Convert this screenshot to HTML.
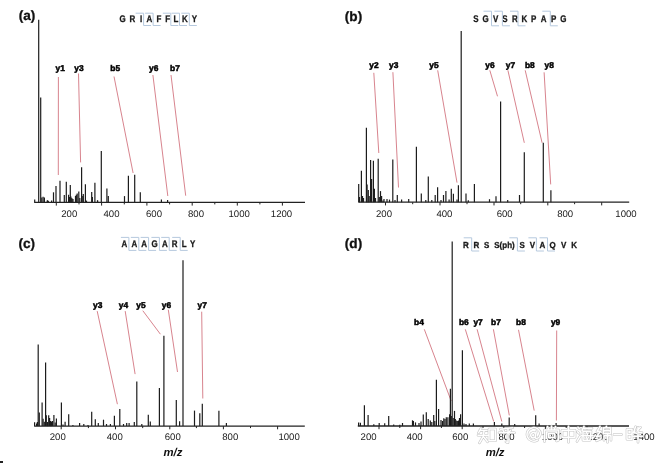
<!DOCTYPE html>
<html><head><meta charset="utf-8"><title>MS/MS spectra</title>
<style>html,body{margin:0;padding:0;background:#fff;}body{width:663px;height:463px;overflow:hidden;}svg{display:block;will-change:transform;}text{text-rendering:geometricPrecision;}</style>
</head><body>
<svg width="663" height="463" viewBox="0 0 663 463">
<rect width="663" height="463" fill="#fff"/>
<g stroke="#d8848e" stroke-width="1.0" fill="none">
<line x1="58.4" y1="77.0" x2="58.3" y2="175.0"/>
<line x1="78.5" y1="73.5" x2="80.6" y2="162.4"/>
<line x1="114.0" y1="76.5" x2="133.1" y2="173.0"/>
<line x1="152.9" y1="75.0" x2="167.8" y2="196.0"/>
<line x1="171.0" y1="75.0" x2="185.7" y2="195.7"/>
<line x1="373.8" y1="72.8" x2="378.8" y2="153.0"/>
<line x1="392.9" y1="72.2" x2="398.5" y2="187.5"/>
<line x1="437.7" y1="70.3" x2="457.0" y2="182.6"/>
<line x1="489.8" y1="70.3" x2="497.5" y2="96.3"/>
<line x1="507.9" y1="70.3" x2="524.3" y2="142.8"/>
<line x1="525.2" y1="70.3" x2="542.1" y2="142.8"/>
<line x1="544.1" y1="72.3" x2="550.7" y2="184.4"/>
<line x1="97.2" y1="311.1" x2="117.4" y2="404.2"/>
<line x1="125.2" y1="311.1" x2="135.1" y2="374.1"/>
<line x1="142.8" y1="310.7" x2="160.4" y2="334.2"/>
<line x1="168.3" y1="309.7" x2="177.5" y2="372.0"/>
<line x1="201.7" y1="311.7" x2="202.8" y2="398.5"/>
<line x1="424.3" y1="329.3" x2="451.2" y2="401.0"/>
<line x1="465.3" y1="329.3" x2="493.7" y2="421.5"/>
<line x1="477.1" y1="329.3" x2="501.8" y2="421.5"/>
<line x1="493.4" y1="329.3" x2="509.3" y2="415.4"/>
<line x1="518.5" y1="329.8" x2="534.2" y2="410.6"/>
<line x1="556.7" y1="330.5" x2="556.4" y2="420.5"/>
</g>
<g stroke="#1c1c1c" stroke-width="1.2">
<line x1="34.7" y1="202.4" x2="34.7" y2="199.4"/>
<line x1="38.7" y1="202.4" x2="38.7" y2="19.8"/>
<line x1="40.7" y1="202.4" x2="40.7" y2="97.5"/>
<line x1="41.8" y1="202.4" x2="41.8" y2="197.6"/>
<line x1="43.1" y1="202.4" x2="43.1" y2="196.8"/>
<line x1="44.4" y1="202.4" x2="44.4" y2="197.6"/>
<line x1="47.7" y1="202.4" x2="47.7" y2="200.2"/>
<line x1="53.5" y1="202.4" x2="53.5" y2="192.3"/>
<line x1="56.0" y1="202.4" x2="56.0" y2="186.0"/>
<line x1="60.0" y1="202.4" x2="60.0" y2="180.8"/>
<line x1="64.3" y1="202.4" x2="64.3" y2="195.0"/>
<line x1="66.3" y1="202.4" x2="66.3" y2="181.7"/>
<line x1="68.6" y1="202.4" x2="68.6" y2="194.7"/>
<line x1="70.3" y1="202.4" x2="70.3" y2="184.9"/>
<line x1="72.0" y1="202.4" x2="72.0" y2="199.0"/>
<line x1="76.3" y1="202.4" x2="76.3" y2="194.7"/>
<line x1="78.8" y1="202.4" x2="78.8" y2="191.6"/>
<line x1="81.6" y1="202.4" x2="81.6" y2="167.3"/>
<line x1="83.3" y1="202.4" x2="83.3" y2="194.0"/>
<line x1="85.4" y1="202.4" x2="85.4" y2="184.2"/>
<line x1="91.7" y1="202.4" x2="91.7" y2="191.9"/>
<line x1="94.9" y1="202.4" x2="94.9" y2="182.8"/>
<line x1="97.5" y1="202.4" x2="97.5" y2="200.3"/>
<line x1="101.3" y1="202.4" x2="101.3" y2="150.9"/>
<line x1="106.9" y1="202.4" x2="106.9" y2="188.4"/>
<line x1="108.3" y1="202.4" x2="108.3" y2="196.1"/>
<line x1="124.5" y1="202.4" x2="124.5" y2="196.1"/>
<line x1="128.4" y1="202.4" x2="128.4" y2="175.8"/>
<line x1="134.7" y1="202.4" x2="134.7" y2="174.8"/>
<line x1="140.3" y1="202.4" x2="140.3" y2="192.3"/>
<line x1="161.4" y1="202.4" x2="161.4" y2="199.6"/>
<line x1="167.6" y1="202.4" x2="167.6" y2="200.0"/>
<line x1="47.2" y1="202.4" x2="47.2" y2="200.6"/>
<line x1="48.3" y1="202.4" x2="48.3" y2="200.9"/>
<line x1="51.6" y1="202.4" x2="51.6" y2="200.6"/>
<line x1="69.5" y1="202.4" x2="69.5" y2="197.0"/>
<line x1="70.9" y1="202.4" x2="70.9" y2="196.5"/>
<line x1="71.8" y1="202.4" x2="71.8" y2="198.0"/>
<line x1="73.0" y1="202.4" x2="73.0" y2="199.0"/>
<line x1="75.5" y1="202.4" x2="75.5" y2="196.0"/>
<line x1="77.2" y1="202.4" x2="77.2" y2="193.5"/>
<line x1="79.8" y1="202.4" x2="79.8" y2="198.0"/>
<line x1="82.8" y1="202.4" x2="82.8" y2="196.0"/>
<line x1="86.5" y1="202.4" x2="86.5" y2="200.6"/>
<line x1="92.4" y1="202.4" x2="92.4" y2="197.0"/>
<line x1="97.6" y1="202.4" x2="97.6" y2="200.6"/>
<line x1="358.7" y1="202.2" x2="358.7" y2="183.9"/>
<line x1="359.5" y1="202.2" x2="359.5" y2="197.0"/>
<line x1="361.4" y1="202.2" x2="361.4" y2="170.8"/>
<line x1="362.5" y1="202.2" x2="362.5" y2="196.0"/>
<line x1="366.4" y1="202.2" x2="366.4" y2="127.8"/>
<line x1="367.1" y1="202.2" x2="367.1" y2="184.5"/>
<line x1="368.3" y1="202.2" x2="368.3" y2="190.0"/>
<line x1="370.6" y1="202.2" x2="370.6" y2="160.0"/>
<line x1="371.6" y1="202.2" x2="371.6" y2="179.0"/>
<line x1="373.4" y1="202.2" x2="373.4" y2="160.8"/>
<line x1="374.4" y1="202.2" x2="374.4" y2="188.7"/>
<line x1="378.2" y1="202.2" x2="378.2" y2="158.8"/>
<line x1="380.5" y1="202.2" x2="380.5" y2="191.1"/>
<line x1="381.6" y1="202.2" x2="381.6" y2="196.0"/>
<line x1="384.0" y1="202.2" x2="384.0" y2="199.0"/>
<line x1="387.0" y1="202.2" x2="387.0" y2="199.0"/>
<line x1="389.5" y1="202.2" x2="389.5" y2="199.6"/>
<line x1="392.8" y1="202.2" x2="392.8" y2="159.6"/>
<line x1="397.3" y1="202.2" x2="397.3" y2="195.0"/>
<line x1="401.6" y1="202.2" x2="401.6" y2="199.6"/>
<line x1="408.7" y1="202.2" x2="408.7" y2="199.0"/>
<line x1="416.4" y1="202.2" x2="416.4" y2="146.7"/>
<line x1="421.3" y1="202.2" x2="421.3" y2="193.5"/>
<line x1="425.8" y1="202.2" x2="425.8" y2="200.0"/>
<line x1="428.3" y1="202.2" x2="428.3" y2="176.6"/>
<line x1="431.8" y1="202.2" x2="431.8" y2="200.0"/>
<line x1="435.2" y1="202.2" x2="435.2" y2="195.0"/>
<line x1="437.6" y1="202.2" x2="437.6" y2="187.2"/>
<line x1="441.0" y1="202.2" x2="441.0" y2="200.0"/>
<line x1="443.5" y1="202.2" x2="443.5" y2="195.0"/>
<line x1="445.9" y1="202.2" x2="445.9" y2="190.9"/>
<line x1="449.1" y1="202.2" x2="449.1" y2="199.6"/>
<line x1="451.3" y1="202.2" x2="451.3" y2="188.7"/>
<line x1="453.4" y1="202.2" x2="453.4" y2="193.8"/>
<line x1="457.0" y1="202.2" x2="457.0" y2="199.6"/>
<line x1="458.4" y1="202.2" x2="458.4" y2="185.3"/>
<line x1="461.2" y1="202.2" x2="461.2" y2="30.9"/>
<line x1="466.0" y1="202.2" x2="466.0" y2="193.5"/>
<line x1="468.3" y1="202.2" x2="468.3" y2="200.3"/>
<line x1="474.4" y1="202.2" x2="474.4" y2="184.1"/>
<line x1="489.5" y1="202.2" x2="489.5" y2="199.2"/>
<line x1="496.0" y1="202.2" x2="496.0" y2="196.2"/>
<line x1="500.6" y1="202.2" x2="500.6" y2="101.5"/>
<line x1="507.7" y1="202.2" x2="507.7" y2="200.0"/>
<line x1="519.5" y1="202.2" x2="519.5" y2="195.0"/>
<line x1="524.3" y1="202.2" x2="524.3" y2="152.3"/>
<line x1="543.3" y1="202.2" x2="543.3" y2="142.8"/>
<line x1="550.9" y1="202.2" x2="550.9" y2="190.2"/>
<line x1="363.5" y1="202.2" x2="363.5" y2="198.0"/>
<line x1="369.2" y1="202.2" x2="369.2" y2="196.0"/>
<line x1="375.5" y1="202.2" x2="375.5" y2="198.0"/>
<line x1="379.3" y1="202.2" x2="379.3" y2="197.0"/>
<line x1="383.0" y1="202.2" x2="383.0" y2="200.5"/>
<line x1="395.0" y1="202.2" x2="395.0" y2="200.0"/>
<line x1="34.6" y1="426.1" x2="34.6" y2="422.3"/>
<line x1="36.6" y1="426.1" x2="36.6" y2="423.5"/>
<line x1="38.2" y1="426.1" x2="38.2" y2="344.5"/>
<line x1="39.3" y1="426.1" x2="39.3" y2="412.4"/>
<line x1="42.1" y1="426.1" x2="42.1" y2="402.4"/>
<line x1="43.1" y1="426.1" x2="43.1" y2="418.7"/>
<line x1="44.3" y1="426.1" x2="44.3" y2="421.7"/>
<line x1="45.6" y1="426.1" x2="45.6" y2="362.6"/>
<line x1="46.3" y1="426.1" x2="46.3" y2="415.3"/>
<line x1="48.7" y1="426.1" x2="48.7" y2="415.3"/>
<line x1="49.6" y1="426.1" x2="49.6" y2="418.0"/>
<line x1="51.5" y1="426.1" x2="51.5" y2="421.7"/>
<line x1="52.4" y1="426.1" x2="52.4" y2="421.0"/>
<line x1="53.9" y1="426.1" x2="53.9" y2="415.1"/>
<line x1="56.4" y1="426.1" x2="56.4" y2="418.5"/>
<line x1="61.4" y1="426.1" x2="61.4" y2="402.4"/>
<line x1="65.1" y1="426.1" x2="65.1" y2="421.7"/>
<line x1="68.7" y1="426.1" x2="68.7" y2="414.2"/>
<line x1="72.9" y1="426.1" x2="72.9" y2="425.0"/>
<line x1="79.6" y1="426.1" x2="79.6" y2="422.9"/>
<line x1="83.8" y1="426.1" x2="83.8" y2="424.0"/>
<line x1="88.0" y1="426.1" x2="88.0" y2="425.0"/>
<line x1="91.7" y1="426.1" x2="91.7" y2="411.7"/>
<line x1="95.3" y1="426.1" x2="95.3" y2="419.3"/>
<line x1="98.3" y1="426.1" x2="98.3" y2="422.9"/>
<line x1="103.5" y1="426.1" x2="103.5" y2="419.7"/>
<line x1="106.5" y1="426.1" x2="106.5" y2="424.0"/>
<line x1="110.4" y1="426.1" x2="110.4" y2="424.0"/>
<line x1="114.4" y1="426.1" x2="114.4" y2="415.7"/>
<line x1="119.8" y1="426.1" x2="119.8" y2="409.0"/>
<line x1="123.5" y1="426.1" x2="123.5" y2="424.0"/>
<line x1="126.7" y1="426.1" x2="126.7" y2="423.0"/>
<line x1="129.1" y1="426.1" x2="129.1" y2="423.0"/>
<line x1="134.3" y1="426.1" x2="134.3" y2="422.0"/>
<line x1="136.8" y1="426.1" x2="136.8" y2="381.6"/>
<line x1="141.8" y1="426.1" x2="141.8" y2="424.0"/>
<line x1="148.3" y1="426.1" x2="148.3" y2="414.7"/>
<line x1="150.3" y1="426.1" x2="150.3" y2="421.5"/>
<line x1="159.4" y1="426.1" x2="159.4" y2="387.9"/>
<line x1="163.9" y1="426.1" x2="163.9" y2="335.8"/>
<line x1="176.3" y1="426.1" x2="176.3" y2="400.0"/>
<line x1="179.6" y1="426.1" x2="179.6" y2="421.2"/>
<line x1="183.0" y1="426.1" x2="183.0" y2="260.3"/>
<line x1="194.5" y1="426.1" x2="194.5" y2="410.6"/>
<line x1="199.8" y1="426.1" x2="199.8" y2="413.2"/>
<line x1="202.3" y1="426.1" x2="202.3" y2="403.8"/>
<line x1="218.9" y1="426.1" x2="218.9" y2="410.7"/>
<line x1="226.4" y1="426.1" x2="226.4" y2="422.9"/>
<line x1="37.4" y1="426.1" x2="37.4" y2="422.0"/>
<line x1="47.5" y1="426.1" x2="47.5" y2="422.0"/>
<line x1="50.5" y1="426.1" x2="50.5" y2="421.0"/>
<line x1="55.2" y1="426.1" x2="55.2" y2="422.5"/>
<line x1="63.0" y1="426.1" x2="63.0" y2="424.5"/>
<line x1="358.6" y1="426.0" x2="358.6" y2="422.4"/>
<line x1="360.4" y1="426.0" x2="360.4" y2="422.8"/>
<line x1="364.4" y1="426.0" x2="364.4" y2="405.2"/>
<line x1="368.1" y1="426.0" x2="368.1" y2="414.9"/>
<line x1="373.8" y1="426.0" x2="373.8" y2="424.2"/>
<line x1="379.2" y1="426.0" x2="379.2" y2="423.0"/>
<line x1="384.7" y1="426.0" x2="384.7" y2="423.3"/>
<line x1="388.7" y1="426.0" x2="388.7" y2="416.1"/>
<line x1="393.7" y1="426.0" x2="393.7" y2="424.5"/>
<line x1="399.8" y1="426.0" x2="399.8" y2="424.8"/>
<line x1="402.5" y1="426.0" x2="402.5" y2="423.0"/>
<line x1="412.5" y1="426.0" x2="412.5" y2="420.3"/>
<line x1="413.4" y1="426.0" x2="413.4" y2="421.0"/>
<line x1="415.5" y1="426.0" x2="415.5" y2="422.4"/>
<line x1="423.3" y1="426.0" x2="423.3" y2="414.5"/>
<line x1="426.3" y1="426.0" x2="426.3" y2="412.2"/>
<line x1="428.2" y1="426.0" x2="428.2" y2="419.1"/>
<line x1="430.3" y1="426.0" x2="430.3" y2="420.6"/>
<line x1="433.7" y1="426.0" x2="433.7" y2="415.0"/>
<line x1="436.4" y1="426.0" x2="436.4" y2="379.7"/>
<line x1="438.6" y1="426.0" x2="438.6" y2="408.9"/>
<line x1="443.8" y1="426.0" x2="443.8" y2="418.3"/>
<line x1="446.3" y1="426.0" x2="446.3" y2="417.3"/>
<line x1="447.9" y1="426.0" x2="447.9" y2="417.3"/>
<line x1="449.6" y1="426.0" x2="449.6" y2="414.2"/>
<line x1="450.4" y1="426.0" x2="450.4" y2="388.7"/>
<line x1="452.2" y1="426.0" x2="452.2" y2="241.5"/>
<line x1="454.5" y1="426.0" x2="454.5" y2="410.9"/>
<line x1="456.2" y1="426.0" x2="456.2" y2="420.5"/>
<line x1="458.5" y1="426.0" x2="458.5" y2="420.5"/>
<line x1="460.6" y1="426.0" x2="460.6" y2="414.2"/>
<line x1="462.4" y1="426.0" x2="462.4" y2="350.2"/>
<line x1="469.3" y1="426.0" x2="469.3" y2="423.5"/>
<line x1="473.4" y1="426.0" x2="473.4" y2="423.5"/>
<line x1="494.4" y1="426.0" x2="494.4" y2="421.9"/>
<line x1="501.8" y1="426.0" x2="501.8" y2="423.6"/>
<line x1="509.2" y1="426.0" x2="509.2" y2="417.4"/>
<line x1="514.7" y1="426.0" x2="514.7" y2="424.0"/>
<line x1="535.7" y1="426.0" x2="535.7" y2="415.3"/>
<line x1="539.1" y1="426.0" x2="539.1" y2="423.5"/>
<line x1="556.1" y1="426.0" x2="556.1" y2="423.0"/>
<line x1="441.0" y1="426.0" x2="441.0" y2="420.0"/>
<line x1="442.5" y1="426.0" x2="442.5" y2="421.0"/>
<line x1="445.0" y1="426.0" x2="445.0" y2="419.0"/>
<line x1="451.3" y1="426.0" x2="451.3" y2="416.0"/>
<line x1="453.2" y1="426.0" x2="453.2" y2="418.0"/>
<line x1="455.3" y1="426.0" x2="455.3" y2="419.0"/>
<line x1="457.3" y1="426.0" x2="457.3" y2="421.0"/>
<line x1="459.5" y1="426.0" x2="459.5" y2="418.0"/>
<line x1="464.0" y1="426.0" x2="464.0" y2="423.5"/>
<line x1="466.0" y1="426.0" x2="466.0" y2="424.0"/>
<line x1="419.0" y1="426.0" x2="419.0" y2="423.0"/>
<line x1="421.0" y1="426.0" x2="421.0" y2="421.5"/>
<line x1="431.8" y1="426.0" x2="431.8" y2="422.0"/>
<line x1="434.8" y1="426.0" x2="434.8" y2="421.0"/>
</g>
<g stroke="#222" stroke-width="1.3" fill="none">
<line x1="34.2" y1="202.4" x2="305.0" y2="202.4"/>
<line x1="358.4" y1="202.2" x2="629.2" y2="202.2"/>
<line x1="34.1" y1="426.1" x2="304.8" y2="426.1"/>
<line x1="357.8" y1="426.0" x2="629.0" y2="426.0"/>
</g>
<g stroke="#222" stroke-width="1">
<line x1="56.3" y1="202.4" x2="56.3" y2="205.6"/>
<line x1="101.6" y1="202.4" x2="101.6" y2="205.6"/>
<line x1="146.9" y1="202.4" x2="146.9" y2="205.6"/>
<line x1="192.2" y1="202.4" x2="192.2" y2="205.6"/>
<line x1="237.3" y1="202.4" x2="237.3" y2="205.6"/>
<line x1="282.4" y1="202.4" x2="282.4" y2="205.6"/>
<line x1="79.0" y1="202.4" x2="79.0" y2="204.4"/>
<line x1="124.3" y1="202.4" x2="124.3" y2="204.4"/>
<line x1="169.6" y1="202.4" x2="169.6" y2="204.4"/>
<line x1="214.8" y1="202.4" x2="214.8" y2="204.4"/>
<line x1="259.9" y1="202.4" x2="259.9" y2="204.4"/>
<line x1="385.5" y1="202.2" x2="385.5" y2="205.39999999999998"/>
<line x1="440.0" y1="202.2" x2="440.0" y2="205.39999999999998"/>
<line x1="494.0" y1="202.2" x2="494.0" y2="205.39999999999998"/>
<line x1="547.8" y1="202.2" x2="547.8" y2="205.39999999999998"/>
<line x1="601.7" y1="202.2" x2="601.7" y2="205.39999999999998"/>
<line x1="412.7" y1="202.2" x2="412.7" y2="204.2"/>
<line x1="467.0" y1="202.2" x2="467.0" y2="204.2"/>
<line x1="520.7" y1="202.2" x2="520.7" y2="204.2"/>
<line x1="574.6" y1="202.2" x2="574.6" y2="204.2"/>
<line x1="61.2" y1="426.1" x2="61.2" y2="429.3"/>
<line x1="115.5" y1="426.1" x2="115.5" y2="429.3"/>
<line x1="169.8" y1="426.1" x2="169.8" y2="429.3"/>
<line x1="223.4" y1="426.1" x2="223.4" y2="429.3"/>
<line x1="277.6" y1="426.1" x2="277.6" y2="429.3"/>
<line x1="88.4" y1="426.1" x2="88.4" y2="428.1"/>
<line x1="142.7" y1="426.1" x2="142.7" y2="428.1"/>
<line x1="196.4" y1="426.1" x2="196.4" y2="428.1"/>
<line x1="250.5" y1="426.1" x2="250.5" y2="428.1"/>
<line x1="379.0" y1="426.0" x2="379.0" y2="429.2"/>
<line x1="420.6" y1="426.0" x2="420.6" y2="429.2"/>
<line x1="462.2" y1="426.0" x2="462.2" y2="429.2"/>
<line x1="503.8" y1="426.0" x2="503.8" y2="429.2"/>
<line x1="545.4" y1="426.0" x2="545.4" y2="429.2"/>
<line x1="587.0" y1="426.0" x2="587.0" y2="429.2"/>
<line x1="399.8" y1="426.0" x2="399.8" y2="428.0"/>
<line x1="441.4" y1="426.0" x2="441.4" y2="428.0"/>
<line x1="483.0" y1="426.0" x2="483.0" y2="428.0"/>
<line x1="524.6" y1="426.0" x2="524.6" y2="428.0"/>
<line x1="566.2" y1="426.0" x2="566.2" y2="428.0"/>
<line x1="607.8" y1="426.0" x2="607.8" y2="428.0"/>
</g>
<g font-family="Liberation Sans, sans-serif" font-size="9.6" fill="#222" text-anchor="middle">
<text x="69.3" y="216.8">200</text>
<text x="111.5" y="216.8">400</text>
<text x="154.0" y="216.8">600</text>
<text x="196.0" y="216.8">800</text>
<text x="239.2" y="216.8">1000</text>
<text x="281.5" y="216.8">1200</text>
<text x="384.0" y="217.0">200</text>
<text x="444.4" y="217.0">400</text>
<text x="504.7" y="217.0">600</text>
<text x="565.2" y="217.0">800</text>
<text x="626.0" y="217.0">1000</text>
<text x="57.8" y="439.9">200</text>
<text x="114.8" y="439.9">400</text>
<text x="172.8" y="439.9">600</text>
<text x="230.3" y="439.9">800</text>
<text x="289.1" y="439.9">1000</text>
<text x="368.6" y="439.9">200</text>
<text x="414.7" y="439.9">400</text>
<text x="460.3" y="439.9">600</text>
<text x="506.5" y="439.9">800</text>
<text x="552.5" y="439.9">1000</text>
<text x="598.0" y="439.9">1200</text>
<text x="644.0" y="439.9">1400</text>
</g>
<g font-family="Liberation Sans, sans-serif" font-size="11.3" font-weight="bold" font-style="italic" fill="#111" text-anchor="middle">
<text x="172.9" y="455.5">m/z</text>
<text x="495.1" y="455.5">m/z</text>
</g>
<g font-family="Liberation Sans, sans-serif" font-size="8.4" font-weight="bold" fill="#000" stroke="#000" stroke-width="0.5" text-anchor="middle">
<text x="60.2" y="71.0">y1</text>
<text x="79.0" y="71.0">y3</text>
<text x="115.2" y="71.0">b5</text>
<text x="153.7" y="71.0">y6</text>
<text x="175.0" y="71.0">b7</text>
<text x="373.9" y="67.8">y2</text>
<text x="393.7" y="67.8">y3</text>
<text x="433.9" y="67.8">y5</text>
<text x="489.9" y="67.8">y6</text>
<text x="510.5" y="67.8">y7</text>
<text x="529.8" y="67.8">b8</text>
<text x="549.2" y="67.8">y8</text>
<text x="97.7" y="307.6">y3</text>
<text x="123.4" y="307.6">y4</text>
<text x="140.9" y="307.6">y5</text>
<text x="166.4" y="307.6">y6</text>
<text x="202.2" y="307.6">y7</text>
<text x="419.0" y="325.4">b4</text>
<text x="463.8" y="325.4">b6</text>
<text x="478.1" y="325.4">y7</text>
<text x="496.0" y="325.4">b7</text>
<text x="521.0" y="325.4">b8</text>
<text x="555.6" y="325.4">y9</text>
</g>
<g font-family="Liberation Sans, sans-serif" font-size="13.6" font-weight="bold" fill="#111" stroke="#111" stroke-width="0.3" text-anchor="middle">
<text x="27.0" y="20.0">(a)</text>
<text x="353.5" y="20.6">(b)</text>
<text x="26.8" y="247.6">(c)</text>
<text x="353.5" y="247.6">(d)</text>
</g>
<g font-family="Liberation Sans, sans-serif" font-size="8.7" font-weight="bold" fill="#1a1a1a" stroke="#1a1a1a" stroke-width="0.3" text-anchor="middle">
<text font-size="9.6" transform="translate(122.5,21.9) scale(0.83,1)">G</text>
<text font-size="9.6" transform="translate(132.5,21.9) scale(0.83,1)">R</text>
<text font-size="9.6" transform="translate(141.0,21.9) scale(0.83,1)">I</text>
<text font-size="9.6" transform="translate(149.5,21.9) scale(0.83,1)">A</text>
<text font-size="9.6" transform="translate(159.0,21.9) scale(0.83,1)">F</text>
<text font-size="9.6" transform="translate(167.7,21.9) scale(0.83,1)">F</text>
<text font-size="9.6" transform="translate(175.9,21.9) scale(0.83,1)">L</text>
<text font-size="9.6" transform="translate(185.0,21.9) scale(0.83,1)">K</text>
<text font-size="9.6" transform="translate(194.3,21.9) scale(0.83,1)">Y</text>
<text font-size="9.6" transform="translate(476.0,21.8) scale(0.83,1)">S</text>
<text font-size="9.6" transform="translate(485.6,21.8) scale(0.83,1)">G</text>
<text font-size="9.6" transform="translate(495.6,21.8) scale(0.83,1)">V</text>
<text font-size="9.6" transform="translate(505.0,21.8) scale(0.83,1)">S</text>
<text font-size="9.6" transform="translate(515.0,21.8) scale(0.83,1)">R</text>
<text font-size="9.6" transform="translate(524.5,21.8) scale(0.83,1)">K</text>
<text font-size="9.6" transform="translate(533.6,21.8) scale(0.83,1)">P</text>
<text font-size="9.6" transform="translate(543.6,21.8) scale(0.83,1)">A</text>
<text font-size="9.6" transform="translate(553.7,21.8) scale(0.83,1)">P</text>
<text font-size="9.6" transform="translate(563.3,21.8) scale(0.83,1)">G</text>
<text font-size="9.6" transform="translate(124.3,247.2) scale(0.83,1)">A</text>
<text font-size="9.6" transform="translate(134.3,247.2) scale(0.83,1)">A</text>
<text font-size="9.6" transform="translate(144.2,247.2) scale(0.83,1)">A</text>
<text font-size="9.6" transform="translate(154.7,247.2) scale(0.83,1)">G</text>
<text font-size="9.6" transform="translate(164.9,247.2) scale(0.83,1)">A</text>
<text font-size="9.6" transform="translate(174.6,247.2) scale(0.83,1)">R</text>
<text font-size="9.6" transform="translate(184.1,247.2) scale(0.83,1)">L</text>
<text font-size="9.6" transform="translate(192.6,247.2) scale(0.83,1)">Y</text>
<text font-size="8.7" transform="translate(466.0,248.0) scale(0.92,1)">R</text>
<text font-size="8.7" transform="translate(476.3,248.0) scale(0.92,1)">R</text>
<text font-size="8.7" transform="translate(486.6,248.0) scale(0.92,1)">S</text>
<text font-size="8.7" transform="translate(504.5,248.0) scale(0.92,1)">S(ph)</text>
<text font-size="8.7" transform="translate(522.1,248.0) scale(0.92,1)">S</text>
<text font-size="8.7" transform="translate(532.4,248.0) scale(0.92,1)">V</text>
<text font-size="8.7" transform="translate(542.5,248.0) scale(0.92,1)">A</text>
<text font-size="8.7" transform="translate(552.7,248.0) scale(0.92,1)">Q</text>
<text font-size="8.7" transform="translate(563.6,248.0) scale(0.92,1)">V</text>
<text font-size="8.7" transform="translate(574.1,248.0) scale(0.92,1)">K</text>
</g>
<g stroke="#b6c9de" stroke-width="1" fill="none">
<polyline points="135.6,13.2 143.6,13.2 143.6,25.5 151.1,25.5"/>
<polyline points="145.1,13.2 153.1,13.2 153.1,25.5 160.6,25.5"/>
<polyline points="162.8,13.2 170.8,13.2 170.8,25.5 178.3,25.5"/>
<polyline points="171.5,13.2 179.5,13.2 179.5,25.5 187.0,25.5"/>
<polyline points="181.3,13.2 189.3,13.2 189.3,25.5 196.8,25.5"/>
<polyline points="483.5,11.2 491.5,11.2 491.5,25.8 499.0,25.8"/>
<polyline points="494.4,11.2 502.4,11.2 502.4,25.8 509.9,25.8"/>
<polyline points="510.0,11.2 518.0,11.2 518.0,25.8 525.5,25.8"/>
<polyline points="542.3,11.2 550.3,11.2 550.3,25.8 557.8,25.8"/>
<polyline points="120.9,237.4 128.9,237.4 128.9,250.4 136.4,250.4"/>
<polyline points="130.8,237.4 138.8,237.4 138.8,250.4 146.3,250.4"/>
<polyline points="140.6,237.4 148.6,237.4 148.6,250.4 156.1,250.4"/>
<polyline points="151.4,237.4 159.4,237.4 159.4,250.4 166.9,250.4"/>
<polyline points="161.2,237.4 169.2,237.4 169.2,250.4 176.7,250.4"/>
<polyline points="172.2,237.4 180.2,237.4 180.2,250.4 187.7,250.4"/>
<polyline points="463.7,237.8 471.7,237.8 471.7,251.0 479.2,251.0"/>
<polyline points="509.4,237.8 517.4,237.8 517.4,251.0 524.9,251.0"/>
<polyline points="528.4,237.8 536.4,237.8 536.4,251.0 543.9,251.0"/>
<polyline points="539.5,237.8 547.5,237.8 547.5,251.0 555.0,251.0"/>
</g>
<path d="M481.0,428.3 L478.5,432.8 M479.5,430.6 L487.0,430.6 M478.0,435.3 L488.0,435.3 M484.0,430.6 L483.5,435.8 L479.5,442.8 M484.0,437.3 L487.5,441.8 M489.0,429.0 L495.5,429.0 L495.5,440.8 L489.0,440.8 L489.0,429.0 M500.5,429.3 L512.5,427.8 M503.0,430.3 L504.0,431.8 M510.5,430.3 L509.5,431.8 M499.0,432.8 L514.5,432.8 M508.0,428.6 L508.0,442.8 L506.0,441.8 M551.5,426.0 L551.5,429.0 M547.5,426.5 L548.5,429.0 M555.5,426.5 L554.5,429.0 M544.5,441.5 L544.5,430.0 L558.5,430.0 L558.5,440.0 L556.5,441.0 M548.5,433.5 L554.5,433.5 L554.5,437.5 L548.5,437.5 L548.5,433.5 M562.0,430.3 L575.0,430.3 L575.0,437.3 L562.0,437.3 L562.0,430.3 M568.5,426.3 L568.5,442.3 M578.0,427.3 L579.5,428.8 M577.5,431.8 L579.0,433.3 M577.0,441.3 L580.0,436.3 M584.0,426.3 L582.0,430.3 M583.0,428.3 L592.0,428.3 M583.0,431.3 L591.0,431.3 L590.0,440.3 L583.0,440.3 L583.0,431.3 M581.0,435.8 L593.0,435.8 M586.5,432.3 L587.5,434.3 M586.5,437.3 L587.5,439.3 M600.0,426.3 L597.0,431.3 L600.5,431.3 L596.5,436.8 L601.0,435.8 M596.5,440.8 L601.0,438.8 M606.5,426.3 L605.5,427.8 M603.5,427.8 L610.5,427.8 L610.5,433.8 L603.5,433.8 L603.5,427.8 M603.5,430.8 L610.5,430.8 M604.0,440.3 L604.0,435.8 L611.0,435.8 L611.0,440.3 M607.5,433.8 L607.5,442.3 M614.0,434.5 L621.5,434.5 M627.0,429.3 L632.0,429.3 L632.0,439.3 L627.0,439.3 L627.0,429.3 M627.0,434.3 L632.0,434.3 M635.5,426.8 L633.5,432.8 M634.5,429.3 L634.5,432.8 L636.5,433.3 M640.5,427.3 L637.5,430.3 M638.0,427.3 L638.0,432.3 L642.0,432.8 M633.5,436.3 L642.5,436.3 M638.0,433.8 L638.0,442.3 M540.6,434.3 A6.8,6.8 0 1 0 537.5,440.1 M536.2,431.8 L535.2,437.2 Q535.2,438.6 537.0,438.4 Q539.8,437.6 540.3,434.3 M535.6,434.4 A2.5,2.6 0 1 0 533.8,437.8 A2.5,2.6 0 0 0 535.6,434.4" fill="none" stroke="#a9a9a9" stroke-opacity="0.7" stroke-width="2.6" stroke-linecap="round" stroke-linejoin="round"/>
<path d="M481.0,428.3 L478.5,432.8 M479.5,430.6 L487.0,430.6 M478.0,435.3 L488.0,435.3 M484.0,430.6 L483.5,435.8 L479.5,442.8 M484.0,437.3 L487.5,441.8 M489.0,429.0 L495.5,429.0 L495.5,440.8 L489.0,440.8 L489.0,429.0 M500.5,429.3 L512.5,427.8 M503.0,430.3 L504.0,431.8 M510.5,430.3 L509.5,431.8 M499.0,432.8 L514.5,432.8 M508.0,428.6 L508.0,442.8 L506.0,441.8 M551.5,426.0 L551.5,429.0 M547.5,426.5 L548.5,429.0 M555.5,426.5 L554.5,429.0 M544.5,441.5 L544.5,430.0 L558.5,430.0 L558.5,440.0 L556.5,441.0 M548.5,433.5 L554.5,433.5 L554.5,437.5 L548.5,437.5 L548.5,433.5 M562.0,430.3 L575.0,430.3 L575.0,437.3 L562.0,437.3 L562.0,430.3 M568.5,426.3 L568.5,442.3 M578.0,427.3 L579.5,428.8 M577.5,431.8 L579.0,433.3 M577.0,441.3 L580.0,436.3 M584.0,426.3 L582.0,430.3 M583.0,428.3 L592.0,428.3 M583.0,431.3 L591.0,431.3 L590.0,440.3 L583.0,440.3 L583.0,431.3 M581.0,435.8 L593.0,435.8 M586.5,432.3 L587.5,434.3 M586.5,437.3 L587.5,439.3 M600.0,426.3 L597.0,431.3 L600.5,431.3 L596.5,436.8 L601.0,435.8 M596.5,440.8 L601.0,438.8 M606.5,426.3 L605.5,427.8 M603.5,427.8 L610.5,427.8 L610.5,433.8 L603.5,433.8 L603.5,427.8 M603.5,430.8 L610.5,430.8 M604.0,440.3 L604.0,435.8 L611.0,435.8 L611.0,440.3 M607.5,433.8 L607.5,442.3 M614.0,434.5 L621.5,434.5 M627.0,429.3 L632.0,429.3 L632.0,439.3 L627.0,439.3 L627.0,429.3 M627.0,434.3 L632.0,434.3 M635.5,426.8 L633.5,432.8 M634.5,429.3 L634.5,432.8 L636.5,433.3 M640.5,427.3 L637.5,430.3 M638.0,427.3 L638.0,432.3 L642.0,432.8 M633.5,436.3 L642.5,436.3 M638.0,433.8 L638.0,442.3 M540.6,434.3 A6.8,6.8 0 1 0 537.5,440.1 M536.2,431.8 L535.2,437.2 Q535.2,438.6 537.0,438.4 Q539.8,437.6 540.3,434.3 M535.6,434.4 A2.5,2.6 0 1 0 533.8,437.8 A2.5,2.6 0 0 0 535.6,434.4" fill="none" stroke="#ffffff" stroke-width="1.5" stroke-linecap="round" stroke-linejoin="round"/>
<rect x="0" y="461" width="3" height="2" fill="#222"/>
</svg>
</body></html>
